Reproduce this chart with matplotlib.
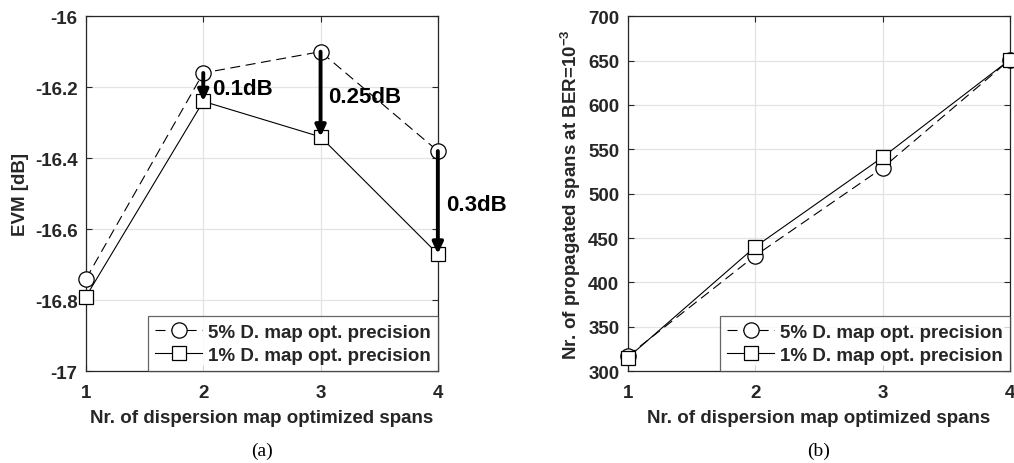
import matplotlib
matplotlib.use("Agg")
import matplotlib.pyplot as plt

plt.rcParams['font.family'] = ['Liberation Sans', 'DejaVu Sans']
plt.rcParams['font.weight'] = 'bold'
plt.rcParams['mathtext.fontset'] = 'custom'
plt.rcParams['mathtext.rm'] = 'Liberation Sans:bold'
plt.rcParams['mathtext.bf'] = 'Liberation Sans:bold'

# Data
spans = [1, 2, 3, 4]
evm_5pct = [-16.74, -16.16, -16.10, -16.38]
evm_1pct = [-16.79, -16.24, -16.34, -16.67]
reach_5pct = [317, 430, 529, 651]
reach_1pct = [315, 440, 541, 651]
gain_labels = ["0.1dB", "0.25dB", "0.3dB"]
gain_spans = [2, 3, 4]
evm_yticks = [-17, -16.8, -16.6, -16.4, -16.2, -16]
evm_yticklabels = ["-17", "-16.8", "-16.6", "-16.4", "-16.2", "-16"]
reach_yticks = [300, 350, 400, 450, 500, 550, 600, 650, 700]
series_labels = ["5% D. map opt. precision", "1% D. map opt. precision"]
xlabel = "Nr. of dispersion map optimized spans"

TXT = '#262626'
SPINE = '#262626'
FS = 13.5

fig = plt.figure(figsize=(10.14, 4.64), dpi=100)
ax1 = fig.add_axes([0.0848, 0.198, 0.347, 0.765])
ax2 = fig.add_axes([0.619, 0.198, 0.377, 0.765])


def style(ax):
    ax.grid(True, color='#e3e3e3', linewidth=0.9)
    ax.set_axisbelow(True)
    for s in ax.spines.values():
        s.set_color(SPINE)
        s.set_linewidth(0.9)
    ax.tick_params(direction='in', length=4, width=0.8, colors=SPINE,
                   labelcolor=TXT, labelsize=FS, top=True, right=True, pad=6)
    ax.tick_params(axis='x', pad=9)
    for lab in ax.get_xticklabels() + ax.get_yticklabels():
        lab.set_fontweight('bold')
    ax.set_xlim(1, 4)
    ax.set_xticks(spans)
    ax.set_xlabel(xlabel, fontsize=FS, fontweight='bold', color=TXT, labelpad=6)


def draw(ax, y5, y1):
    ax.plot(spans, y5, color='k', lw=0.8, ls=(0, (9, 5)), marker='o', ms=11,
            mfc='white', mec='k', mew=0.9, label=series_labels[0], clip_on=False, zorder=3)
    ax.plot(spans, y1, color='k', lw=0.8, ls='-', marker='s', ms=9.5,
            mfc='white', mec='k', mew=0.9, label=series_labels[1], clip_on=False, zorder=3)
    leg = ax.legend(loc='lower right', fontsize=FS, frameon=True, fancybox=False,
                    borderaxespad=0, handlelength=2.5, handletextpad=0.3,
                    borderpad=0.4, labelspacing=0.3)
    leg.get_frame().set_edgecolor('#404040')
    leg.get_frame().set_linewidth(0.9)
    for t in leg.get_texts():
        t.set_fontweight('bold')
        t.set_color(TXT)


# (a) EVM
draw(ax1, evm_5pct, evm_1pct)
ax1.set_ylim(-17, -16)
ax1.set_yticks(evm_yticks)
ax1.set_yticklabels(evm_yticklabels)
ax1.set_ylabel("EVM [dB]", fontsize=FS, fontweight='bold', color=TXT, labelpad=4)
style(ax1)

label_pos = {2: (2.075, -16.205), 3: (3.065, -16.225), 4: (4.07, -16.53)}
for lab, s in zip(gain_labels, gain_spans):
    i = spans.index(s)
    ax1.annotate('', xy=(s, evm_1pct[i]), xytext=(s, evm_5pct[i]),
                 arrowprops=dict(arrowstyle='-|>,head_length=0.6,head_width=0.28',
                                 color='k', lw=2.8, mutation_scale=11,
                                 shrinkA=0, shrinkB=0),
                 annotation_clip=False, zorder=5)
    ax1.text(*label_pos[s], lab, fontsize=16, fontweight='bold', color='k',
             ha='left', va='center', zorder=6, clip_on=False)

# (b) reach
draw(ax2, reach_5pct, reach_1pct)
ax2.set_ylim(300, 700)
ax2.set_yticks(reach_yticks)
ax2.set_ylabel(r"Nr. of propagated spans at BER=10$^{\mathbf{-3}}$", fontsize=FS,
               fontweight='bold', color=TXT, labelpad=4)
style(ax2)

fig.text(0.258, 0.008, "(a)", fontsize=14, family='Liberation Serif',
         fontweight='normal', ha='center', va='bottom')
fig.text(0.807, 0.008, "(b)", fontsize=14, family='Liberation Serif',
         fontweight='normal', ha='center', va='bottom')

fig.savefig("out.png", dpi=100)
